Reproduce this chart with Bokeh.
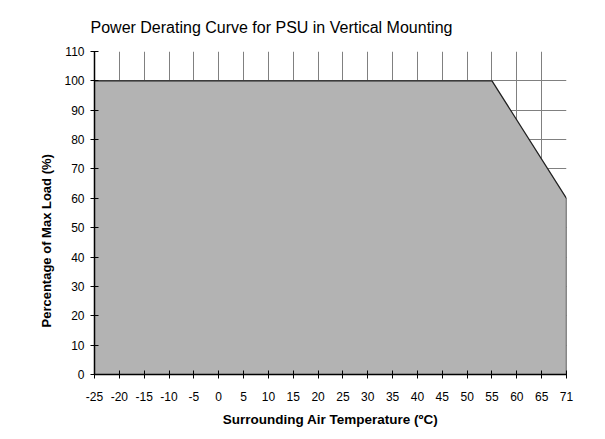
import math
from bokeh.plotting import figure
from bokeh.models import Range1d, FixedTicker, Title
from bokeh.embed import file_html
from bokeh.resources import INLINE

# ---- data ----
tick_temps = [-25, -20, -15, -10, -5, 0, 5, 10, 15, 20, 25, 30, 35, 40, 45, 50, 55, 60, 65, 71]
load_ticks = [0, 10, 20, 30, 40, 50, 60, 70, 80, 90, 100, 110]
curve_temps = [-25, 55, 71]
curve_load = [100, 100, 60]

FONT = "Liberation Sans"

# x axis is evenly spaced by tick label (category-like)
tick_pos = list(range(len(tick_temps)))
curve_pos = [tick_temps.index(t) for t in curve_temps]
patch_x = [curve_pos[0]] + curve_pos + [curve_pos[-1]]
patch_y = [load_ticks[0]] + curve_load + [load_ticks[0]]

p = figure(width=605, height=439,
           x_range=Range1d(tick_pos[0], tick_pos[-1]),
           y_range=Range1d(load_ticks[0], load_ticks[-1]),
           output_backend="svg", toolbar_location=None,
           min_border_left=94, min_border_right=39,
           min_border_top=51, min_border_bottom=65)

p.title.text = "Power Derating Curve for PSU in Vertical Mounting"
p.title.text_font = FONT
p.title.text_font_size = "16px"
p.title.text_font_style = "normal"
p.title.text_color = "black"
p.title.align = "left"
p.title.offset = -4
p.title.standoff = 32

p.outline_line_color = None
p.background_fill_color = "white"
p.border_fill_color = "white"

p.patch(patch_x, patch_y, fill_color="#b3b3b3", line_color=None)
p.line(patch_x[1:], patch_y[1:], line_color="#222222", line_width=1.3)

# grids
p.xgrid.ticker = FixedTicker(ticks=tick_pos)
p.ygrid.ticker = FixedTicker(ticks=load_ticks)
for g in (p.xgrid, p.ygrid):
    g.grid_line_color = "#808080"
    g.grid_line_alpha = 1.0
    g.grid_line_width = 1

# axes
p.xaxis.ticker = FixedTicker(ticks=tick_pos)
p.xaxis.major_label_overrides = {i: str(t) for i, t in zip(tick_pos, tick_temps)}
p.yaxis.ticker = FixedTicker(ticks=load_ticks)
for ax in (p.xaxis, p.yaxis):
    ax.axis_line_color = "black"
    ax.axis_line_width = 1.5
    ax.major_tick_line_color = "black"
    ax.major_tick_in = 4
    ax.major_tick_out = 4
    ax.minor_tick_line_color = None
    ax.major_label_text_font = FONT
    ax.major_label_text_font_size = "12px"
    ax.major_label_text_color = "black"

p.xaxis.major_label_standoff = 13
p.yaxis.major_label_standoff = 6

p.xaxis.axis_label = "Surrounding Air Temperature (ºC)"
p.xaxis.axis_label_text_font = FONT
p.xaxis.axis_label_text_font_size = "13.5px"
p.xaxis.axis_label_text_font_style = "bold"
p.xaxis.axis_label_text_color = "black"
p.xaxis.axis_label_standoff = 8

ytitle = Title(text="Percentage of Max Load (%)", align="left", offset=47,
               text_font=FONT, text_font_size="13px", text_font_style="bold",
               text_color="black", standoff=15)
p.add_layout(ytitle, "left")

open("out.html", "w").write(file_html(p, INLINE))
